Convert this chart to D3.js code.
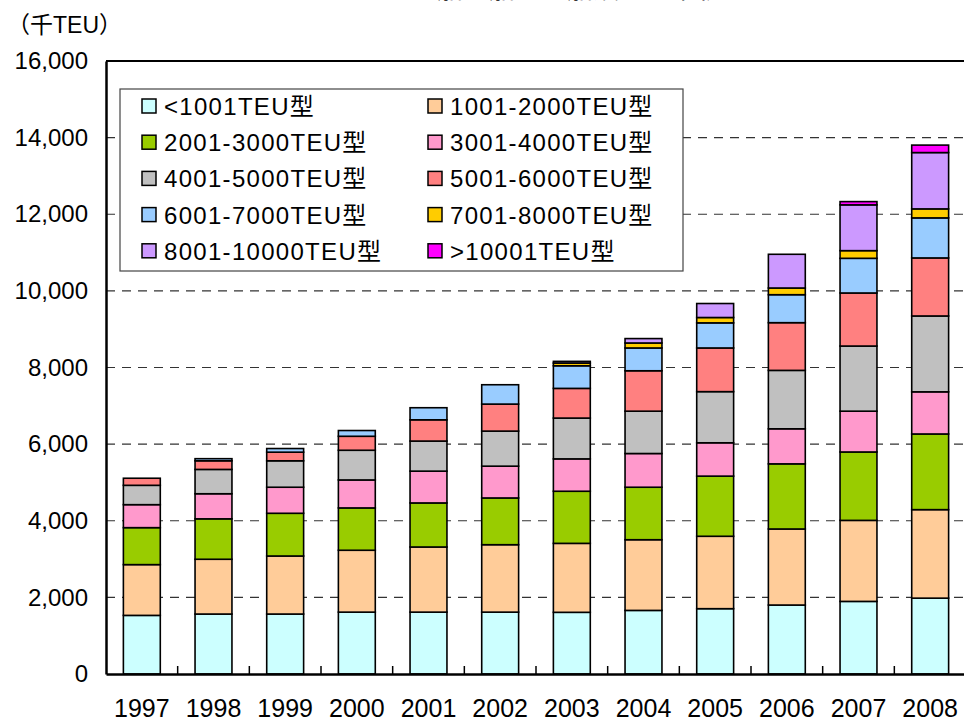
<!DOCTYPE html>
<html>
<head>
<meta charset="utf-8">
<script src="https://cdn.jsdelivr.net/npm/d3@7"></script>
<style>
  body { margin: 0; background: #fff; }
  text { font-family: "Liberation Sans", Arial, "Noto Sans CJK JP", sans-serif; }
</style>
</head>
<body>
<div id="chart"></div>
<script>
// years on the x axis
var years = ["1997","1998","1999","2000","2001","2002","2003","2004","2005","2006","2007","2008"];

// ship size classes (legend order = stack order, bottom up)
var classes = ["<1001TEU型","1001-2000TEU型","2001-3000TEU型","3001-4000TEU型","4001-5000TEU型",
               "5001-6000TEU型","6001-7000TEU型","7001-8000TEU型","8001-10000TEU型",">10001TEU型"];
var colors = ["#ccffff","#ffcc99","#99cc00","#ff99cc","#c0c0c0","#ff8080","#99ccff","#ffcc00","#cc99ff","#ff00ff"];

// capacity, thousand TEU
var teu0 = [1530,1565,1565,1615,1615,1615,1610,1660,1705,1800,1895,1980];
var teu1 = [1325,1430,1515,1615,1700,1760,1800,1845,1890,1985,2115,2310];
var teu2 = [965,1055,1115,1105,1150,1220,1360,1370,1570,1700,1785,1975];
var teu3 = [600,655,680,730,830,830,845,880,870,915,1065,1100];
var teu4 = [505,635,690,775,785,915,1065,1105,1335,1525,1700,1980];
var teu5 = [185,225,225,365,555,705,775,1055,1140,1245,1385,1515];
var teu6 = [0,55,95,150,315,505,590,595,655,730,905,1045];
var teu7 = [0,0,0,0,0,0,70,130,140,175,200,235];
var teu8 = [0,0,0,0,0,0,45,115,365,880,1195,1470];
var teu9 = [0,0,0,0,0,0,0,0,0,0,85,195];

var yTicks = [0,2000,4000,6000,8000,10000,12000,14000,16000];

var series = [teu0,teu1,teu2,teu3,teu4,teu5,teu6,teu7,teu8,teu9];
var table = years.map(function(y, i){
    var row = {year: y};
    classes.forEach(function(c, k){ row[c] = series[k][i]; });
    return row;
});

var W = 964, H = 723;
var margin = {left: 106, top: 61, right: -2, bottom: 49};
var width = W - margin.left - margin.right;
var height = H - margin.top - margin.bottom;

var svg = d3.select("#chart").append("svg")
    .attr("width", W)
    .attr("height", H);

// title, mostly above the picture edge
svg.append("text")
    .attr("x", 528).attr("y", -2)
    .attr("text-anchor", "middle")
    .attr("font-size", 26)
    .text("コンテナ船の船型別船腹量の推移");

svg.append("text")
    .attr("x", 7).attr("y", 33)
    .attr("font-size", 23)
    .text("（千TEU）");

var g = svg.append("g")
    .attr("transform", "translate(" + margin.left + "," + margin.top + ")");

var x = d3.scaleBand().domain(years).range([0, width]).paddingInner(0.485).paddingOuter(0.2425);
var y = d3.scaleLinear().domain([0, 16000]).range([height, 0]);

// dashed grid lines
g.selectAll(".grid")
    .data(yTicks.filter(function(d){ return d > 0 && d < 16000; }))
    .enter().append("line")
    .attr("x1", 0).attr("x2", width)
    .attr("y1", function(d){ return y(d); })
    .attr("y2", function(d){ return y(d); })
    .attr("stroke", "#333")
    .attr("stroke-width", 1.2)
    .attr("stroke-dasharray", "9,7");

// top frame line
g.append("line")
    .attr("x1", 0).attr("x2", width)
    .attr("y1", 0).attr("y2", 0)
    .attr("stroke", "#000").attr("stroke-width", 2);

var stack = d3.stack().keys(classes);
var layers = stack(table);

g.selectAll(".layer")
    .data(layers)
    .enter().append("g")
    .attr("fill", function(d, i){ return colors[i]; })
    .selectAll("rect")
    .data(function(d){ return d.filter(function(p){ return p[1] - p[0] > 0; }); })
    .enter().append("rect")
    .attr("x", function(d){ return x(d.data.year); })
    .attr("width", x.bandwidth())
    .attr("y", function(d){ return y(d[1]); })
    .attr("height", function(d){ return y(d[0]) - y(d[1]); })
    .attr("stroke", "#000")
    .attr("stroke-width", 1.6);

// y axis
var yAxis = g.append("g")
    .call(d3.axisLeft(y).tickValues(yTicks).tickSize(0).tickPadding(18)
        .tickFormat(d3.format(",")));
yAxis.select(".domain").attr("stroke", "#000").attr("stroke-width", 2.5);
yAxis.selectAll("text").attr("font-size", 24).attr("fill", "#000");

// x axis with ticks between categories, pointing up
var xAxis = g.append("g")
    .attr("transform", "translate(0," + height + ")")
    .call(d3.axisBottom(x).tickSize(0).tickPadding(25));
xAxis.select(".domain").attr("stroke", "#000").attr("stroke-width", 2.5);
xAxis.selectAll("text").attr("font-size", 25).attr("fill", "#000");

g.selectAll(".xtick")
    .data(years.slice(1))
    .enter().append("line")
    .attr("x1", function(d){ return x(d) - x.step() * x.paddingInner() / 2; })
    .attr("x2", function(d){ return x(d) - x.step() * x.paddingInner() / 2; })
    .attr("y1", height).attr("y2", height - 8)
    .attr("stroke", "#000").attr("stroke-width", 1.5);

// legend
var legend = svg.append("g").attr("transform", "translate(120,89)");
legend.append("rect")
    .attr("width", 563).attr("height", 182)
    .attr("fill", "#fff").attr("stroke", "#444").attr("stroke-width", 1.2);

var item = legend.selectAll(".item")
    .data(classes)
    .enter().append("g")
    .attr("transform", function(d, i){
        return "translate(" + (i % 2 === 0 ? 22 : 308) + "," + (17 + Math.floor(i / 2) * 36.2) + ")";
    });
item.append("rect")
    .attr("x", 0).attr("y", -7)
    .attr("width", 14).attr("height", 14)
    .attr("fill", function(d, i){ return colors[i]; })
    .attr("stroke", "#000").attr("stroke-width", 1.5);
item.append("text")
    .attr("x", 22).attr("y", 9)
    .attr("font-size", 24)
    .attr("letter-spacing", 1.3)
    .text(function(d){ return d; });
</script>
</body>
</html>
